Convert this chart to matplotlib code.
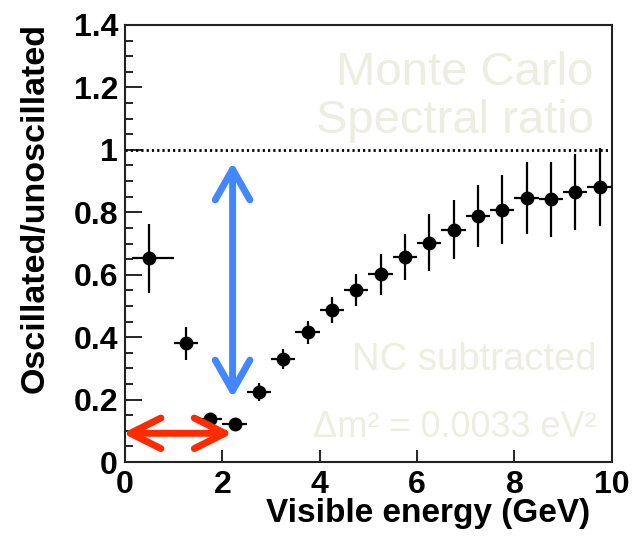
import numpy as np
import matplotlib
matplotlib.use("Agg")
import matplotlib.pyplot as plt
from matplotlib.patches import FancyArrowPatch
from matplotlib.ticker import MultipleLocator

# spectral ratio
energy = [0.5, 1.25, 1.75, 2.25, 2.75, 3.25, 3.75, 4.25, 4.75, 5.25,
          5.75, 6.25, 6.75, 7.25, 7.75, 8.25, 8.75, 9.25, 9.75]
ratio = [0.653, 0.380, 0.137, 0.123, 0.224, 0.330, 0.416, 0.487, 0.551, 0.601,
         0.657, 0.703, 0.744, 0.789, 0.808, 0.845, 0.842, 0.864, 0.880]
ratio_err = [0.11, 0.053, 0.015, 0.012, 0.028, 0.032, 0.037, 0.041, 0.051, 0.065,
             0.075, 0.09, 0.094, 0.10, 0.11, 0.115, 0.12, 0.122, 0.125]
bin_lo = [0.36] + [0.25] * 18
bin_hi = [0.5] + [0.25] * 18

xticks = [0, 2, 4, 6, 8, 10]
xtick_labels = ["0", "2", "4", "6", "8", "10"]
yticks = [0, 0.2, 0.4, 0.6, 0.8, 1.0, 1.2, 1.4]
ytick_labels = ["0", "0.2", "0.4", "0.6", "0.8", "1", "1.2", "1.4"]

dip_energy = 2.21   # where the arrows meet
dip_top = 0.96
dip_bottom = 0.206
red_y = 0.092
red_left = -0.05

bold = dict(family="Liberation Sans", weight="bold")
faint = "#EDEDE1"

fig = plt.figure(figsize=(6.41, 5.41), dpi=100)
ax = fig.add_axes([0.195, 0.146, 0.7595, 0.8078])

ax.errorbar(energy, ratio, yerr=ratio_err, xerr=[bin_lo, bin_hi], fmt="o",
            color="black", ms=9, elinewidth=1.6, capsize=0, zorder=3)
ax.axhline(1.0, color="black", lw=2, ls=(0, (0.8, 1.1)), zorder=2)

ax.set_xlim(0, 10)
ax.set_ylim(0, 1.4)
ax.set_xticks(xticks)
ax.set_xticklabels(xtick_labels, fontsize=23, **bold)
ax.set_yticks(yticks)
ax.set_yticklabels(ytick_labels, fontsize=23, **bold)
ax.yaxis.set_minor_locator(MultipleLocator(0.05))
ax.tick_params(axis="y", which="major", direction="in", length=12, width=1.2, pad=5)
ax.tick_params(axis="y", which="minor", direction="in", length=6, width=1.2)
ax.tick_params(axis="x", which="major", direction="in", length=9, width=1.2, pad=6)
ax.tick_params(top=False, right=False)
for s in ax.spines.values():
    s.set_linewidth(1.5)
    s.set_color("#222222")

ax.set_xlabel("Visible energy (GeV)", fontsize=24, loc="right", **bold)
ax.xaxis.set_label_coords(0.955, -0.083)
ax.set_ylabel("Oscillated/unoscillated", fontsize=24.5, loc="top", **bold)
ax.yaxis.set_label_coords(-0.152, 1.005)

# faint annotations
tf = dict(family="Liberation Sans", color=faint, ha="right", transform=ax.transAxes, zorder=1)
ax.text(0.963, 0.862, "Monte Carlo", fontsize=34, va="baseline", **tf)
ax.text(0.963, 0.754, "Spectral ratio", fontsize=34, va="baseline", **tf)
ax.text(0.968, 0.211, "NC subtracted", fontsize=27.5, va="baseline", **tf)
ax.text(0.968, 0.058, "\u0394m\u00b2 = 0.0033 eV\u00b2", fontsize=26, va="baseline", **tf)

# arrows
blue = FancyArrowPatch((dip_energy, dip_bottom), (dip_energy, dip_top),
                       arrowstyle="<->,head_length=2.2,head_width=1.25",
                       mutation_scale=10, color="#4287FF", lw=5,
                       shrinkA=0, shrinkB=0, capstyle="round", joinstyle="round", zorder=4)
red = FancyArrowPatch((red_left, red_y), (dip_energy, red_y),
                      arrowstyle="<->,head_length=2.2,head_width=1.1",
                      mutation_scale=10, color="#FF2B00", lw=5,
                      shrinkA=0, shrinkB=0, capstyle="round", joinstyle="round",
                      clip_on=False, zorder=4)
ax.add_patch(blue)
ax.add_patch(red)

fig.savefig("out.png", dpi=100)
